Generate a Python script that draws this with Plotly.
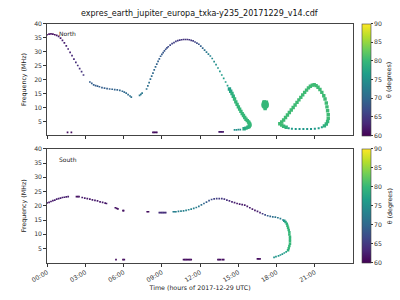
import plotly.graph_objects as go

# ---------------- DATA ----------------
title_text = "expres_earth_jupiter_europa_txka-y235_20171229_v14.cdf"
tick_hours = [0, 3, 6, 9, 12, 15, 18, 21]
tick_labels = ["00:00", "03:00", "06:00", "09:00", "12:00", "15:00", "18:00", "21:00"]
freq_ticks = [5, 10, 15, 20, 25, 30, 35, 40]
theta_ticks = [60, 65, 70, 75, 80, 85, 90]

# North hemisphere - thin dotted emission
north_thin_hours = [0.0, 0.15, 0.3, 0.45, 0.6, 0.75, 0.9, 1.05, 1.2, 1.35, 1.5, 1.65, 1.8, 1.95, 2.1, 2.25, 2.4, 2.55, 2.7, 2.85,
                    3.35, 3.5, 3.65, 3.8, 3.95, 4.1, 4.3, 4.5, 4.7, 4.9, 5.1, 5.3, 5.5, 5.7, 5.9, 6.05, 6.2, 6.35, 6.5, 6.6,
                    7.25, 7.35, 7.45,
                    7.8, 7.9, 8.0, 8.1, 8.2, 8.3, 8.4, 8.5, 8.6, 8.7, 8.8, 8.9, 9.0, 9.1, 9.2, 9.3, 9.4, 9.5, 9.65, 9.8,
                    9.95, 10.1, 10.25, 10.4, 10.55, 10.7, 10.85, 11.0, 11.15,
                    11.3, 11.45, 11.6, 11.75, 11.9, 12.05, 12.2, 12.35, 12.5, 12.65, 12.8, 12.95, 13.1, 13.25, 13.4,
                    13.55, 13.7, 13.85, 14.0, 14.15,
                    14.7, 14.85, 15.0, 15.15,
                    1.6, 1.9, 8.3, 8.4, 8.5, 8.6, 13.5, 13.6, 13.7, 13.8]
north_thin_freq = [36.0, 36.2, 36.3, 36.2, 36.0, 35.8, 35.4, 34.8, 34.0, 33.1, 32.0, 30.9, 29.7, 28.5, 27.3, 26.1, 25.0, 23.9, 22.8, 21.6,
                   19.1, 18.6, 18.1, 17.8, 17.6, 17.4, 17.1, 16.9, 16.7, 16.6, 16.5, 16.4, 16.3, 16.1, 15.8, 15.5, 15.1, 14.6, 14.1, 13.7,
                   14.3, 14.7, 15.1,
                   16.6, 17.7, 18.9, 20.1, 21.2, 22.3, 23.4, 24.5, 25.5, 26.5, 27.4, 28.3, 29.0, 29.6, 30.2, 30.8, 31.3, 31.7, 32.3, 32.8,
                   33.2, 33.6, 33.9, 34.1, 34.2, 34.3, 34.3, 34.3, 34.2,
                   34.0, 33.8, 33.4, 33.0, 32.6, 31.9, 31.2, 30.5, 29.8, 29.1, 28.4, 27.5, 26.4, 25.3, 24.1,
                   22.9, 21.6, 20.4, 19.1, 17.8,
                   2.0, 2.0, 2.05, 2.1,
                   1.1, 1.1, 1.1, 1.1, 1.1, 1.1, 1.3, 1.3, 1.3, 1.3]
north_thin_theta = [61, 61, 61, 61, 61, 61.5, 62, 62, 62.5, 62.5, 63, 63, 63, 63.5, 63.5, 64, 64, 64, 64.5, 64.5,
                    69, 69, 69, 69, 69, 69, 69, 69, 69, 69, 69.5, 69.5, 69.5, 70, 70, 70, 70.5, 70.5, 71, 71,
                    72, 72, 72,
                    71, 71, 71, 70.5, 70.5, 70, 70, 70, 69.5, 69.5, 69, 69, 68.5, 68.5, 68, 67.5, 67, 67, 66.5, 66,
                    66, 65.5, 65, 65, 64.5, 64.5, 64.5, 64.5, 64.5,
                    65, 65.5, 66, 67, 68, 69, 70, 71, 72, 73, 73.5, 74, 74.5, 75, 75.5,
                    76, 76.5, 77, 77, 77,
                    75, 75, 75, 75,
                    61, 61, 61, 61, 61, 61, 62, 62, 62, 62]

# North hemisphere - thick emission (descending branch, blob, loop)
north_thick_hours = [14.3, 14.4, 14.5, 14.6, 14.7, 14.8, 14.9, 15.0, 15.1, 15.2, 15.3, 15.4, 15.5, 15.6, 15.7, 15.8, 15.85,
                     15.9, 15.9, 15.85, 15.75, 15.6, 15.45,
                     17.0, 17.2, 16.95, 17.25, 17.1, 17.1, 17.05, 17.15, 17.0, 17.2, 16.95, 17.25, 17.0, 17.2, 17.1,
                     18.25, 18.4, 18.55, 18.7, 18.85, 19.0, 19.15, 19.3, 19.45, 19.6, 19.75, 19.9, 20.05, 20.2, 20.35,
                     20.5, 20.65, 20.8, 20.95, 21.1, 21.25, 21.4, 21.55, 21.7, 21.8, 21.9, 21.95, 22.0, 22.05, 22.05,
                     22.0, 21.9, 21.75, 18.75, 18.55, 18.4]
north_thick_freq = [16.6, 15.8, 15.0, 14.0, 13.0, 12.0, 11.1, 10.2, 9.4, 8.6, 7.8, 7.1, 6.4, 5.8, 5.3, 4.8, 4.4,
                    4.0, 3.6, 3.2, 2.9, 2.6, 2.4,
                    11.5, 11.5, 10.7, 10.7, 10.0, 9.6, 12.0, 10.8, 11.9, 11.9, 11.2, 11.2, 10.3, 10.3, 11.2,
                    4.2, 4.8, 5.5, 6.4, 7.3, 8.2, 9.1, 10.0, 10.9, 11.8, 12.7, 13.6, 14.5, 15.4, 16.2,
                    17.0, 17.6, 18.0, 18.1, 17.8, 17.2, 16.4, 15.4, 14.2, 13.0, 11.6, 10.2, 8.8, 7.4, 6.1,
                    5.0, 4.1, 3.4, 2.9, 3.3, 3.7]
north_thick_theta = [77, 78, 79, 79, 80, 80, 80, 80, 80, 80, 80, 80, 80, 80, 80, 80, 80,
                     80, 80, 80, 79, 79, 78,
                     80, 80, 80, 80, 80, 80, 80, 80, 80, 80, 80, 80, 80, 80, 80,
                     80.5, 80.5, 80.5, 80.5, 80.5, 80.5, 80.5, 80.5, 80.5, 80.5, 80.5, 80.5, 80.5, 80.5, 80.5,
                     80.5, 80.5, 80.5, 80.5, 80.5, 80.5, 80.5, 80.5, 80.5, 80.5, 80.5, 80.5, 80.5, 80.5, 80.5,
                     80, 79.5, 79, 79.5, 80, 80.5]

# North loop bottom (thin teal)
north_loop_hours = [21.55, 21.3, 21.0, 20.7, 20.4, 20.1, 19.8, 19.5, 19.2, 18.95]
north_loop_freq = [2.9, 2.6, 2.4, 2.3, 2.3, 2.3, 2.3, 2.3, 2.4, 2.6]
north_loop_theta = [77, 76.5, 76, 76, 76, 76, 76, 76, 76.5, 77]

# South hemisphere - thin dotted emission
south_thin_hours = [0.0, 0.15, 0.3, 0.45, 0.6, 0.75, 0.9, 1.05, 1.2, 1.35, 1.5, 1.65,
                    2.3, 2.4, 2.5, 2.75, 2.95, 3.15, 3.35, 3.55, 3.75, 3.95, 4.15, 4.35, 4.55, 4.65,
                    5.35, 5.45, 5.55, 5.95, 6.0,
                    7.85, 7.95,
                    8.8, 8.9, 9.0, 9.1, 9.2, 9.3,
                    9.9, 10.0, 10.1, 10.3, 10.5, 10.7, 10.9, 11.1, 11.3, 11.5, 11.7, 11.9, 12.1, 12.3, 12.5, 12.7,
                    12.9, 13.1, 13.3, 13.5, 13.7, 13.9, 14.1, 14.3, 14.5, 14.7, 14.9, 15.1, 15.3, 15.5, 15.7, 15.9,
                    16.1, 16.3, 16.5, 16.7, 16.9, 17.1, 17.3, 17.5, 17.7, 17.9, 18.1, 18.3, 18.5,
                    18.75, 18.6, 18.45, 18.3, 18.15, 17.95, 17.8,
                    5.4, 5.95, 6.05, 10.7, 10.8, 10.9, 11.0, 11.1, 11.2, 11.3, 13.4, 13.5, 13.6, 13.75, 13.85,
                    16.5, 16.6, 16.7]
south_thin_freq = [21.0, 21.2, 21.5, 21.8, 22.0, 22.3, 22.5, 22.7, 22.9, 23.0, 23.1, 23.2,
                   23.2, 23.2, 23.2, 22.9, 22.7, 22.5, 22.3, 22.1, 21.9, 21.7, 21.4, 21.2, 20.9, 20.8,
                   19.3, 19.1, 18.9, 18.3, 18.3,
                   17.9, 17.9,
                   17.6, 17.6, 17.6, 17.6, 17.6, 17.6,
                   17.9, 17.9, 17.9, 18.0, 18.1, 18.2, 18.4, 18.6, 18.8, 19.1, 19.4, 19.8, 20.3, 20.8, 21.3, 21.8,
                   22.2, 22.4, 22.5, 22.5, 22.5, 22.3, 22.0, 21.7, 21.4, 21.1, 20.8, 20.6, 20.4, 20.2, 19.8, 19.3,
                   18.8, 18.4, 18.0, 17.6, 17.2, 16.8, 16.5, 16.3, 16.1, 16.0, 15.8, 15.5, 15.0,
                   3.8, 3.4, 3.0, 2.7, 2.4, 2.1, 1.9,
                   1.1, 1.1, 1.1, 1.1, 1.1, 1.1, 1.1, 1.1, 1.1, 1.1, 1.1, 1.1, 1.1, 1.1, 1.1,
                   1.35, 1.35, 1.35]
south_thin_theta = [62, 62, 62, 62, 62.5, 62.5, 62.5, 62.5, 62.5, 62.5, 62.5, 62.5,
                    61.5, 61.5, 61.5, 62, 62, 62, 62, 62, 62, 62, 62, 62, 62, 62,
                    61.5, 61.5, 61.5, 61.5, 61.5,
                    61, 61,
                    64, 64, 64, 64, 64, 64,
                    73, 73, 73, 73, 73, 73, 73.5, 73.5, 73.5, 73, 72.5, 72, 71, 70, 69, 68,
                    67, 66, 65.5, 65.5, 65, 64.5, 64, 63.5, 63, 62.5, 62, 62, 62, 62, 62, 62,
                    62, 62, 62.5, 63, 65, 67, 69, 70, 71, 71.5, 72, 72.5, 73,
                    77, 76.5, 76, 76, 76, 75.5, 75.5,
                    61, 61, 61, 61, 61, 61, 61, 61, 61, 61, 61, 61, 61, 61, 61,
                    61, 61, 61]

# South hemisphere - thick (vertical branch near 19h)
south_thick_hours = [18.6, 18.7, 18.8, 18.85, 18.9, 18.95, 19.0, 19.0, 19.05, 19.05, 19.05, 19.05, 19.0, 18.95, 18.9]
south_thick_freq = [14.7, 14.3, 13.7, 13.0, 12.3, 11.5, 10.7, 9.9, 9.1, 8.3, 7.5, 6.7, 5.9, 5.1, 4.4]
south_thick_theta = [76, 78, 79, 80, 80, 80, 80, 80, 80, 80, 80, 80, 80, 80, 79]

# ---------------- FIGURE ----------------
W, H = 400, 300
FONT = "DejaVu Sans"
TICKF = dict(family=FONT, size=6.2, color="#333")

def px_x(p):
    return p / W

def px_y(p):
    return 1 - p / H

x_dom = [px_x(31.5), px_x(351)]
top_dom = [px_y(133.2), px_y(19.8)]
bot_dom = [px_y(262.2), px_y(146.8)]

fig = go.Figure()

def add(xs, ys, cs, size, xa, ya, cax):
    fig.add_trace(go.Scatter(
        x=xs, y=ys, mode="markers", xaxis=xa, yaxis=ya, showlegend=False,
        marker=dict(symbol="square", size=size, color=cs, coloraxis=cax, line=dict(width=0)),
        hoverinfo="skip"))

add(north_thin_hours, north_thin_freq, north_thin_theta, 1.7, "x", "y", "coloraxis")
add(north_loop_hours, north_loop_freq, north_loop_theta, 2.0, "x", "y", "coloraxis")
add(north_thick_hours, north_thick_freq, north_thick_theta, 3.4, "x", "y", "coloraxis")
add(south_thin_hours, south_thin_freq, south_thin_theta, 1.7, "x2", "y2", "coloraxis2")
add(south_thick_hours, south_thick_freq, south_thick_theta, 2.5, "x2", "y2", "coloraxis2")

axis_common = dict(range=[0, 24], tickvals=tick_hours, ticks="outside", ticklen=3, tickwidth=0.8,
                   tickcolor="#333", showline=True, linecolor="#444", linewidth=0.8, mirror=True,
                   showgrid=False, zeroline=False, domain=x_dom, tickfont=TICKF)
yaxis_common = dict(range=[0, 40], tickvals=freq_ticks, ticks="outside", ticklen=3, tickwidth=0.8,
                    tickcolor="#333", showline=True, linecolor="#444", linewidth=0.8, mirror=True,
                    showgrid=False, zeroline=False, tickfont=TICKF,
                    title=dict(text="Frequency (MHz)", font=dict(family=FONT, size=6.3, color="#222"), standoff=6))

def cbar(dom):
    return dict(x=px_x(360.5), xanchor="left", xpad=0, ypad=0, y=dom[1], yanchor="top",
                len=dom[1] - dom[0], lenmode="fraction", thickness=9, outlinewidth=0.6, outlinecolor="#444",
                tickvals=theta_ticks, ticks="outside", ticklen=2, tickcolor="#333", tickfont=TICKF)

def cbar_title(dom):
    return dict(text="θ (degrees)", x=px_x(389), y=(dom[0] + dom[1]) / 2, xref="paper", yref="paper",
                showarrow=False, textangle=-90, xanchor="center", yanchor="middle",
                font=dict(family=FONT, size=6.3, color="#222"))

fig.update_layout(
    width=W, height=H, margin=dict(l=0, r=0, t=0, b=0),
    paper_bgcolor="white", plot_bgcolor="white",
    xaxis=dict(**axis_common, anchor="y", showticklabels=False),
    yaxis=dict(**yaxis_common, domain=top_dom, anchor="x"),
    xaxis2=dict(**axis_common, anchor="y2", ticktext=tick_labels, tickangle=-30,
                title=dict(text="Time (hours of 2017-12-29 UTC)", font=dict(family=FONT, size=6.3, color="#222"), standoff=3)),
    yaxis2=dict(**yaxis_common, domain=bot_dom, anchor="x2"),
    coloraxis=dict(colorscale="Viridis", cmin=60, cmax=90, colorbar=cbar(top_dom)),
    coloraxis2=dict(colorscale="Viridis", cmin=60, cmax=90, colorbar=cbar(bot_dom)),
    annotations=[
        dict(text=title_text, x=px_x(191), y=px_y(10), xref="paper", yref="paper", showarrow=False,
             xanchor="center", yanchor="middle", font=dict(family=FONT, size=8, color="#111")),
        dict(text="North", x=0.8, y=36.5, xref="x", yref="y", showarrow=False, xanchor="left", yanchor="middle",
             font=dict(family=FONT, size=6, color="#222")),
        dict(text="South", x=0.8, y=36.3, xref="x2", yref="y2", showarrow=False, xanchor="left", yanchor="middle",
             font=dict(family=FONT, size=6, color="#222")),
        cbar_title(top_dom),
        cbar_title(bot_dom),
    ],
)

fig.write_html("out.html")
